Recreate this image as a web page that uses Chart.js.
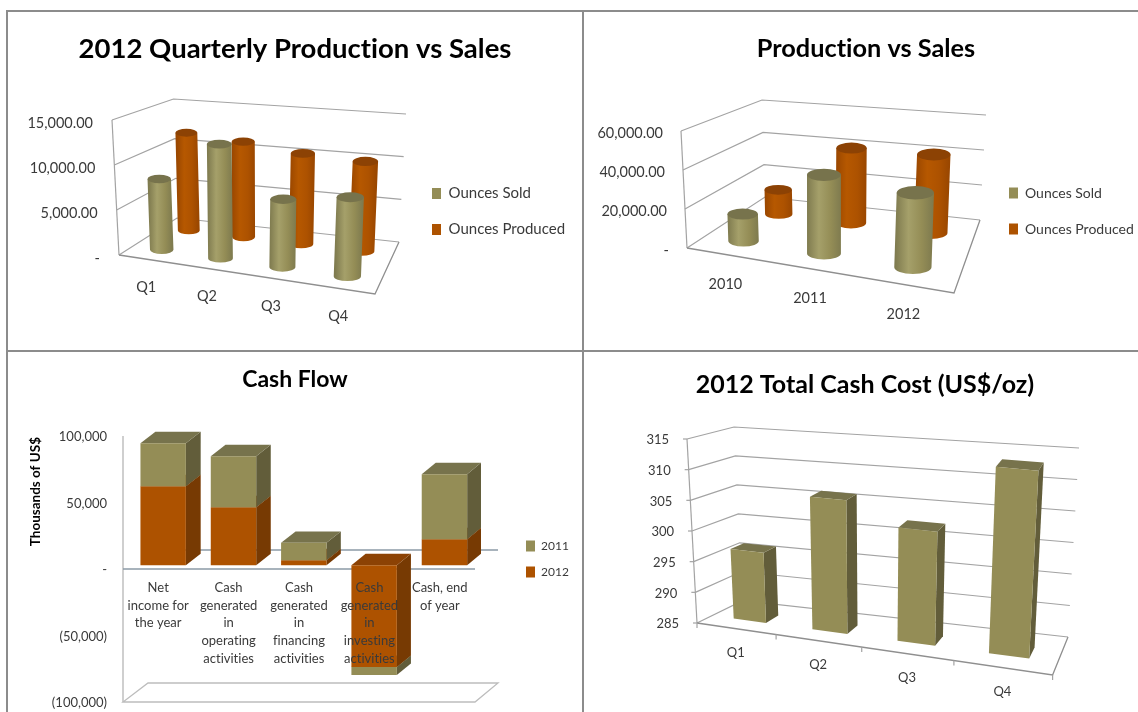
<!DOCTYPE html>
<html>
<head>
<meta charset="utf-8">
<title>Production, sales and cash charts</title>
<script src="https://cdn.jsdelivr.net/npm/chart.js@4"></script>
<style>
  html, body { margin: 0; background: #fff; overflow: hidden; }
  body { width: 1138px; height: 712px; position: relative; }
  canvas { position: absolute; }
  .rule { position: absolute; background: #8c8c8c; }
</style>
</head>
<body>
<div class="rule" style="left:6px;top:10px;width:1132px;height:2px"></div>
<div class="rule" style="left:6px;top:350px;width:1132px;height:2px"></div>
<div class="rule" style="left:6px;top:10px;width:2px;height:702px"></div>
<div class="rule" style="left:582px;top:10px;width:2px;height:702px"></div>
<canvas id="quarterly" width="574" height="338" style="left:8px;top:12px"></canvas>
<canvas id="yearly" width="564" height="338" style="left:584px;top:12px"></canvas>
<canvas id="cashFlow" width="574" height="360" style="left:8px;top:352px"></canvas>
<canvas id="cashCost" width="562" height="360" style="left:584px;top:352px"></canvas>
<script>
// data
const quarters = ['Q1', 'Q2', 'Q3', 'Q4'];
const quarterSold = [8000, 12600, 7300, 8300];
const quarterProduced = [11800, 11300, 10500, 10200];

const years = ['2010', '2011', '2012'];
const yearSold = [14300, 40800, 37800];
const yearProduced = [14000, 42500, 43300];

const cashLabels = [
    ['Net', 'income for', 'the year'],
    ['Cash', 'generated', 'in', 'operating', 'activities'],
    ['Cash', 'generated', 'in', 'financing', 'activities'],
    ['Cash', 'generated', 'in', 'investing', 'activities'],
    ['Cash, end', 'of year']
];
const cash2012 = [59400, 43600, 3800, -76500, 19500];
const cash2011 = [32300, 38300, 13000, -6000, 48900];

const costValues = [296.5, 306.5, 303, 314];

const OLIVE = '#948d56';
const RUST = '#ad5200';
const TEXT = '#3a3a3a';
const GRID = '#a3a3a3';

// shades for the 3d faces
const shades = {};
shades[OLIVE] = { top: '#77734c', side: '#625d3a', edge: '#7f7b4f', light: '#a5a06a' };
shades[RUST] = { top: '#8c4204', side: '#773a03', edge: '#9a4700', light: '#b65800' };

Chart.defaults.font.family = 'Lato';
Chart.defaults.color = TEXT;
Chart.defaults.animation = false;

function mix(a, b, t) {
    return [a[0] + (b[0] - a[0]) * t, a[1] + (b[1] - a[1]) * t];
}

// the chart area of the flat chart is mapped on a box, corners are in page pixels
function projector(chart, view) {
    return function (px, py, depth) {
        const area = chart.chartArea;
        let u = (px - area.left) / (area.right - area.left);
        u = u - view.warp * u * (1 - u);
        const h = (area.bottom - py) / (area.bottom - area.top);
        const floor = mix(mix(view.fl, view.fr, u), mix(view.bl, view.br, u), depth);
        const roof = mix(mix(view.flt, view.frt, u), mix(view.blt, view.brt, u), depth);
        const p = mix(floor, roof, h);
        return [p[0] - view.left, p[1] - view.top];
    };
}

function path(ctx, points) {
    ctx.beginPath();
    points.forEach(function (p, i) {
        if (i == 0) ctx.moveTo(p[0], p[1]);
        else ctx.lineTo(p[0], p[1]);
    });
}

function strokeLine(ctx, points, color, width) {
    path(ctx, points);
    ctx.strokeStyle = color;
    ctx.lineWidth = width;
    ctx.stroke();
}

function fillFace(ctx, points, color) {
    path(ctx, points);
    ctx.closePath();
    ctx.fillStyle = color;
    ctx.fill();
}

function drawGridWalls(chart, ctx, P) {
    const a = chart.chartArea;
    chart.scales.y.ticks.forEach(function (t, i) {
        const y = chart.scales.y.getPixelForTick(i);
        strokeLine(ctx, [P(a.left, y, 0), P(a.left, y, 1), P(a.right, y, 1)], GRID, 1.2);
    });
    strokeLine(ctx, [P(a.left, a.top, 0), P(a.left, a.bottom, 0)], GRID, 1.2);
    strokeLine(ctx, [P(a.left, a.bottom, 0), P(a.right, a.bottom, 0), P(a.right, a.bottom, 1)], '#8f8f8f', 1.3);
}

function drawCashWalls(chart, ctx, P) {
    const a = chart.chartArea;
    const zero = chart.scales.y.getPixelForValue(0);
    strokeLine(ctx, [P(a.left, a.top, 0), P(a.left, a.bottom, 0)], '#b5b5b5', 1.3);
    path(ctx, [P(a.left, a.bottom, 0), P(a.right, a.bottom, 0), P(a.right, a.bottom, 1), P(a.left, a.bottom, 1)]);
    ctx.closePath();
    ctx.strokeStyle = '#bdbdbd';
    ctx.lineWidth = 1.3;
    ctx.stroke();
    strokeLine(ctx, [P(a.left, zero, 1), P(a.right, zero, 1)], '#8b9aa6', 1.6);
    strokeLine(ctx, [P(a.left, zero, 0), P(a.right, zero, 0)], '#8b9aa6', 1.6);
}

function drawTicks(chart, ctx, P) {
    const a = chart.chartArea;
    chart.scales.y.ticks.forEach(function (t, i) {
        const p = P(a.left, chart.scales.y.getPixelForTick(i), 0);
        strokeLine(ctx, [p, [p[0] - 4, p[1]]], GRID, 1.2);
    });
    const x = chart.scales.x;
    for (let i = 0; i <= x.ticks.length; i++) {
        const p = P(x.getPixelForValue(i - 0.5), a.bottom, 0);
        strokeLine(ctx, [p, [p[0], p[1] + 5]], GRID, 1.2);
    }
}

function drawCylinders(chart, ctx, P, view) {
    // back row first
    for (let d = chart.data.datasets.length - 1; d >= 0; d--) {
        const color = chart.data.datasets[d].backgroundColor;
        const shade = shades[color];
        chart.getDatasetMeta(d).data.forEach(function (bar) {
            const depth = view.rows[d];
            const low = P(bar.x, bar.base, depth);
            const high = P(bar.x, bar.y, depth);
            const rx = (P(bar.x + bar.width / 2, bar.base, depth)[0] - P(bar.x - bar.width / 2, bar.base, depth)[0]) / 2;
            const ry = rx * view.flatten;
            const mid = (low[0] + high[0]) / 2;
            const grad = ctx.createLinearGradient(mid - rx, 0, mid + rx, 0);
            grad.addColorStop(0, shade.edge);
            grad.addColorStop(0.35, shade.light);
            grad.addColorStop(0.7, color);
            grad.addColorStop(1, shade.edge);
            ctx.beginPath();
            ctx.moveTo(high[0] - rx, high[1]);
            ctx.lineTo(low[0] - rx, low[1]);
            ctx.ellipse(low[0], low[1], rx, ry, 0, Math.PI, 0, true);
            ctx.lineTo(high[0] + rx, high[1]);
            ctx.closePath();
            ctx.fillStyle = grad;
            ctx.fill();
            ctx.beginPath();
            ctx.ellipse(high[0], high[1], rx, ry, 0, 0, Math.PI * 2);
            ctx.fillStyle = shade.top;
            ctx.fill();
        });
    }
}

function drawBoxes(chart, ctx, P, view) {
    const count = chart.data.labels.length;
    for (let i = 0; i < count; i++) {
        let parts = [];
        chart.data.datasets.forEach(function (set, d) {
            const bar = chart.getDatasetMeta(d).data[i];
            parts.push({
                color: set.backgroundColor,
                x0: bar.x - bar.width / 2,
                x1: bar.x + bar.width / 2,
                top: Math.min(bar.y, bar.base),
                bottom: Math.max(bar.y, bar.base)
            });
        });
        // lowest piece of a stack first, the upper one paints over its roof
        parts.sort(function (a, b) { return b.bottom - a.bottom; });
        parts.forEach(function (b) {
            const shade = shades[b.color];
            fillFace(ctx, [P(b.x1, b.top, view.near), P(b.x1, b.top, view.far), P(b.x1, b.bottom, view.far), P(b.x1, b.bottom, view.near)], shade.side);
            fillFace(ctx, [P(b.x0, b.top, view.near), P(b.x0, b.top, view.far), P(b.x1, b.top, view.far), P(b.x1, b.top, view.near)], shade.top);
            fillFace(ctx, [P(b.x0, b.top, view.near), P(b.x1, b.top, view.near), P(b.x1, b.bottom, view.near), P(b.x0, b.bottom, view.near)], b.color);
        });
    }
}

function noClip() {
    return undefined;
}

function box3d(view) {
    return {
        id: 'box3d',
        afterLayout: function (chart) {
            // legend goes where the picture has it
            const lg = chart.legend;
            const pad = lg.options.labels.padding;
            lg.left = view.legend[0] - view.left - pad;
            lg.top = view.legend[1] - view.top - pad;
            lg.right = chart.width;
            lg.bottom = chart.height;
        },
        beforeDraw: function (chart) {
            // no ti ligature in the titles
            chart.ctx.textRendering = 'optimizeSpeed';
            // the axes keep drawing their own labels, they are only moved on the box
            const P = projector(chart, view);
            const a = chart.chartArea;
            const y = chart.scales.y;
            const x = chart.scales.x;
            y._computeLabelArea = noClip;
            x._computeLabelArea = noClip;
            y.getLabelItems(a).forEach(function (item, i) {
                const p = P(a.left, y.getPixelForTick(i), 0);
                item.options.translation = [p[0] + view.yLabel[0], p[1] + view.yLabel[1]];
            });
            x.getLabelItems(a).forEach(function (item, i) {
                const p = P(x.getPixelForTick(i), a.bottom, 0);
                item.options.translation = [p[0] + view.xLabel[0], p[1] + view.xLabel[1]];
            });
        },
        beforeDatasetsDraw: function (chart) {
            const ctx = chart.ctx;
            const P = projector(chart, view);
            ctx.save();
            if (view.kind == 'cash') drawCashWalls(chart, ctx, P);
            else drawGridWalls(chart, ctx, P);
            if (view.ticks) drawTicks(chart, ctx, P);
            if (view.kind == 'cylinder') drawCylinders(chart, ctx, P, view);
            else drawBoxes(chart, ctx, P, view);
            ctx.restore();
            return false;
        }
    };
}

function money(v) {
    if (v == 0) return '-';
    const s = Math.abs(v).toLocaleString('en-US');
    return v < 0 ? '(' + s + ')' : s;
}

function money2(v) {
    if (v == 0) return '-';
    return v.toLocaleString('en-US', { minimumFractionDigits: 2 });
}

function makeChart(id, view, conf) {
    return new Chart(document.getElementById(id), {
        type: 'bar',
        data: { labels: conf.labels, datasets: conf.datasets },
        plugins: [box3d(view)],
        options: {
            responsive: false,
            layout: { padding: conf.padding || 0 },
            plugins: {
                tooltip: { enabled: false },
                title: {
                    display: true,
                    text: conf.title,
                    color: '#000',
                    font: { size: conf.titleSize, weight: 'bold' },
                    padding: conf.titlePadding
                },
                legend: {
                    display: conf.legend !== false,
                    position: 'right',
                    align: 'start',
                    reverse: !!conf.reverseLegend,
                    labels: {
                        boxWidth: 9,
                        boxHeight: 11,
                        padding: conf.legendGap,
                        color: TEXT,
                        font: { size: conf.legendSize }
                    }
                }
            },
            scales: {
                x: {
                    stacked: !!conf.stacked,
                    grid: { display: false },
                    border: { display: false },
                    ticks: {
                        z: 1,
                        autoSkip: false,
                        maxRotation: 0,
                        minRotation: 0,
                        color: TEXT,
                        font: { size: conf.tickSize, lineHeight: conf.tickLine || 1.3 }
                    }
                },
                y: {
                    stacked: !!conf.stacked,
                    min: conf.min,
                    max: conf.max,
                    title: conf.yTitle || { display: false },
                    grid: { display: false },
                    border: { display: false },
                    ticks: {
                        stepSize: conf.step,
                        color: TEXT,
                        font: { size: conf.tickSize },
                        callback: conf.format
                    }
                }
            }
        }
    });
}

makeChart('quarterly', {
    kind: 'cylinder', left: 8, top: 12, warp: 0.1, rows: [0.25, 0.75], flatten: 0.36,
    fl: [119, 255], fr: [375, 294], bl: [177, 218], br: [399, 242],
    flt: [112, 120], frt: [382, 144], blt: [173.5, 99], brt: [406, 114],
    yLabel: [-19, 3], xLabel: [-2, 18], legend: [432, 186]
}, {
    title: '2012 Quarterly Production vs Sales', titleSize: 27.5, titlePadding: { top: 21, bottom: 12 },
    labels: quarters, min: 0, max: 15000, step: 5000, format: money2,
    tickSize: 14.5, legendSize: 15, legendGap: 21,
    datasets: [
        { label: 'Ounces Sold', data: quarterSold, backgroundColor: OLIVE, grouped: false, barPercentage: 0.41, categoryPercentage: 1 },
        { label: 'Ounces Produced', data: quarterProduced, backgroundColor: RUST, grouped: false, barPercentage: 0.41, categoryPercentage: 1 }
    ]
});

makeChart('yearly', {
    kind: 'cylinder', left: 584, top: 12, warp: 0.15, rows: [0.25, 0.75], flatten: 0.36,
    fl: [687, 248], fr: [954, 293], bl: [765, 197], br: [980, 220],
    flt: [681, 131], frt: [960, 168], blt: [762, 100], brt: [986, 115],
    yLabel: [-18, 2], xLabel: [-0.5, 20.5], legend: [1009, 186]
}, {
    title: 'Production vs Sales', titleSize: 25.3, titlePadding: { top: 22, bottom: 12 },
    labels: years, min: 0, max: 60000, step: 20000, format: money2,
    tickSize: 14.5, legendSize: 14, legendGap: 22,
    datasets: [
        { label: 'Ounces Sold', data: yearSold, backgroundColor: OLIVE, grouped: false, barPercentage: 0.4, categoryPercentage: 1 },
        { label: 'Ounces Produced', data: yearProduced, backgroundColor: RUST, grouped: false, barPercentage: 0.4, categoryPercentage: 1 }
    ]
});

makeChart('cashFlow', {
    kind: 'cash', left: 8, top: 352, warp: 0, near: 0.2, far: 0.8,
    fl: [123, 702], fr: [475, 702], bl: [148, 683], br: [498, 683],
    flt: [123, 436], frt: [475, 436], blt: [148, 417], brt: [498, 417],
    yLabel: [-16, 1], xLabel: [0, -123], legend: [526, 540]
}, {
    title: 'Cash Flow', titleSize: 23, titlePadding: { top: 14, bottom: 10 },
    labels: cashLabels, min: -100000, max: 100000, step: 50000, format: money,
    tickSize: 13, tickLine: 1.36, legendSize: 12, legendGap: 14, stacked: true, reverseLegend: true,
    padding: { bottom: 30 },
    yTitle: { display: true, text: 'Thousands of US$', color: '#000', font: { size: 13.5, weight: 'bold' }, padding: { top: 20, bottom: 4 } },
    datasets: [
        { label: '2012', data: cash2012, backgroundColor: RUST, barPercentage: 0.646, categoryPercentage: 1 },
        { label: '2011', data: cash2011, backgroundColor: OLIVE, barPercentage: 0.646, categoryPercentage: 1 }
    ]
});

makeChart('cashCost', {
    kind: 'box', left: 584, top: 352, warp: 0.147, near: 0.33, far: 0.63, ticks: true,
    fl: [697, 623], fr: [1052.6, 675], bl: [742.6, 600.7], br: [1068, 637],
    flt: [687, 439], frt: [1064, 476], blt: [734, 427], brt: [1079, 448],
    yLabel: [-18, 1], xLabel: [0, 16], legend: [2000, 0]
}, {
    title: '2012 Total Cash Cost (US$/oz)', titleSize: 25, titlePadding: { top: 18, bottom: 10 },
    labels: quarters, min: 285, max: 315, step: 5, format: function (v) { return v; },
    tickSize: 13, legendSize: 13, legendGap: 10, legend: false,
    datasets: [
        { label: 'Total Cash Cost', data: costValues, backgroundColor: OLIVE, base: 285, barPercentage: 0.42, categoryPercentage: 1 }
    ]
});
</script>
</body>
</html>
